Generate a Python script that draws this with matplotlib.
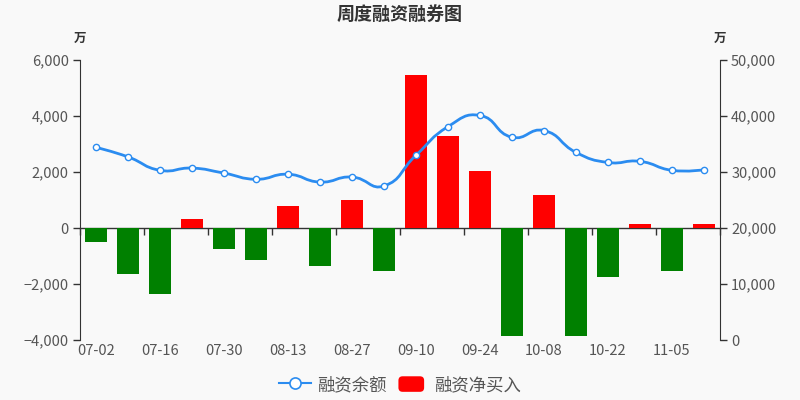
import matplotlib
matplotlib.use("Agg")
import matplotlib.pyplot as plt
import numpy as np
from matplotlib.path import Path
from matplotlib.patches import PathPatch, FancyBboxPatch, Patch
from matplotlib.lines import Line2D
from matplotlib.legend_handler import HandlerPatch
from matplotlib.ticker import FuncFormatter, FixedLocator

plt.rcParams['font.family'] = ['Noto Sans CJK SC', 'DejaVu Sans']

dates = ["07-02", "07-09", "07-16", "07-23", "07-30", "08-06", "08-13", "08-20",
         "08-27", "09-03", "09-10", "09-17", "09-24", "10-01", "10-08", "10-15",
         "10-22", "10-29", "11-05", "11-12"]
net_buy = [-500, -1640, -2360, 320, -760, -1140, 800, -1350, 990, -1540,
           5460, 3290, 2050, -3870, 1190, -3850, -1740, 150, -1530, 140]
balance = [34400, 32700, 30300, 30700, 29800, 28700, 29600, 28200, 29100, 27500,
           33000, 38100, 40100, 36200, 37400, 33500, 31700, 31900, 30300, 30400]

title = "周度融资融券图"
unit = "万"
series_names = ["融资余额", "融资净买入"]

BG = "#F9F9F9"
BLUE = "#2B8CF0"
TXT = "#555555"
AX = "#333333"

fig = plt.figure(figsize=(8, 4), dpi=100, facecolor=BG)
ax = fig.add_axes([0.1, 0.15, 0.8, 0.7])
ax.set_facecolor('none')
ax2 = ax.twinx()
ax2.set_facecolor('none')

x = np.arange(len(dates))
colors = ["#FF0000" if v >= 0 else "#008000" for v in net_buy]
ax.bar(x, net_buy, width=0.7, color=colors, zorder=2)

ax.set_xlim(-0.5, len(dates) - 0.5)
ax.set_ylim(-4000, 6000)
ax2.set_ylim(0, 50000)

fmt = FuncFormatter(lambda v, p: ("{:,.0f}".format(v)).replace("-", "−"))
ax.yaxis.set_major_locator(FixedLocator(np.arange(-4000, 6001, 2000)))
ax.yaxis.set_major_formatter(fmt)
ax2.yaxis.set_major_locator(FixedLocator(np.arange(0, 50001, 10000)))
ax2.yaxis.set_major_formatter(fmt)

for s in ['top']:
    ax.spines[s].set_visible(False)
    ax2.spines[s].set_visible(False)
ax.spines['right'].set_visible(False)
ax2.spines['left'].set_visible(False)
ax.spines['bottom'].set_visible(False)
ax2.spines['bottom'].set_visible(False)
ax.spines['left'].set_color(AX)
ax2.spines['right'].set_color(AX)

ax.tick_params(axis='y', colors=AX, labelcolor=TXT, labelsize=10.5, length=5, width=1, direction='out', pad=3)
ax2.tick_params(axis='y', colors=AX, labelcolor=TXT, labelsize=10.5, length=5, width=1, direction='out', pad=3)

# category labels at bottom
ax.set_xticks(x[::2])
ax.set_xticklabels(dates[::2])
ax.tick_params(axis='x', length=0, labelcolor=TXT, labelsize=10.5, pad=3)

# zero axis line with boundary ticks
frac0 = (0 - (-4000)) / 10000
sec = ax.secondary_xaxis(frac0)
sec.set_xticks(np.arange(-0.5, len(dates), 2))
sec.tick_params(axis='x', length=5, width=1, colors=AX, labelbottom=False, direction='out')
sec.set_xticklabels([])
sec.spines['bottom'].set_color(AX)
sec.spines['bottom'].set_linewidth(1)

# smooth line (ECharts-like bezier)
fig.canvas.draw()
pts = ax2.transData.transform(np.column_stack([x, balance]))
smooth = 0.5
n = len(pts)
cp_in = [None] * n
cp_out = [None] * n
for i in range(n):
    p = pts[i]
    if i == 0 or i == n - 1:
        cp_in[i] = p.copy()
        cp_out[i] = p.copy()
        continue
    prev, nxt = pts[i - 1], pts[i + 1]
    v = nxt - prev
    l0 = np.hypot(*(p - prev))
    l1 = np.hypot(*(nxt - p))
    r = l1 / (l0 + l1)
    cp_in[i] = p - v * smooth * (1 - r)
    cp_out[i] = p + v * smooth * r
verts = [pts[0]]
codes = [Path.MOVETO]
for i in range(n - 1):
    verts += [cp_out[i], cp_in[i + 1], pts[i + 1]]
    codes += [Path.CURVE4] * 3
inv = ax2.transData.inverted()
verts_d = inv.transform(np.array(verts))
patch = PathPatch(Path(verts_d, codes), facecolor='none', edgecolor=BLUE, lw=2,
                  transform=ax2.transData, zorder=3)
ax2.add_patch(patch)
ax2.plot(x, balance, linestyle='none', marker='o', markersize=4.5,
         markerfacecolor='white', markeredgecolor=BLUE, markeredgewidth=1, zorder=4)

# titles / units
fig.text(0.5, 1 - 14 / 400, title, ha='center', va='center', fontsize=13,
         fontweight='bold', color='#333333')
fig.text(80 / 800, 1 - 38 / 400, unit, ha='center', va='center', fontsize=9,
         fontweight='bold', color='#333333')
fig.text(720 / 800, 1 - 38 / 400, unit, ha='center', va='center', fontsize=9,
         fontweight='bold', color='#333333')


class RoundHandler(HandlerPatch):
    def create_artists(self, legend, orig_handle, xdescent, ydescent, width, height, fontsize, trans):
        p = FancyBboxPatch((-xdescent + 2, -ydescent), width - 4, height,
                           boxstyle="round,pad=0,rounding_size=3",
                           facecolor=orig_handle.get_facecolor(), edgecolor='none',
                           transform=trans)
        return [p]


h1 = Line2D([], [], color=BLUE, lw=1.5, marker='o', markersize=8,
            markerfacecolor='white', markeredgecolor=BLUE, markeredgewidth=1.2)
h2 = Patch(facecolor='#FF0000')
leg = fig.legend([h1, h2], series_names, loc='center', bbox_to_anchor=(0.5, 1 - 385 / 400),
                 ncol=2, frameon=False, fontsize=12.5, handlelength=1.8, handleheight=1.0,
                 handletextpad=0.4, columnspacing=0.5,
                 handler_map={Patch: RoundHandler()})
for t in leg.get_texts():
    t.set_color(TXT)

fig.savefig("out.png", dpi=100, facecolor=BG)
